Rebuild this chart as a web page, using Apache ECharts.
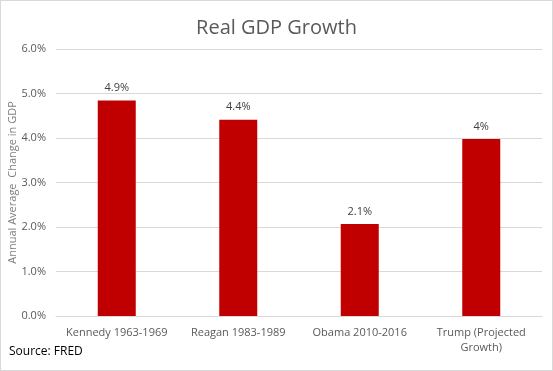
<!DOCTYPE html>
<html>
<head>
<meta charset="utf-8">
<script src="https://cdn.jsdelivr.net/npm/echarts@6/dist/echarts.min.js"></script>
<style>
html,body{margin:0;padding:0;background:#fff;}
#c{width:553px;height:371px;box-sizing:border-box;border:1px solid #d9d9d9;}
</style>
</head>
<body>
<div id="c"></div>
<script>
const categories = ["Kennedy 1963-1969", "Reagan 1983-1989", "Obama 2010-2016", "Trump (Projected\nGrowth)"];
const growthValues = [4.84, 4.41, 2.07, 3.98];
const valueLabels = ["4.9%", "4.4%", "2.1%", "4%"];
const yTicks = [0, 1, 2, 3, 4, 5, 6];

const chart = echarts.init(document.getElementById('c'));
chart.setOption({
  animation: false,
  title: {
    text: 'Real GDP Growth',
    left: 'center',
    top: 12,
    textStyle: {fontFamily: 'Open Sans', fontSize: 20, fontWeight: 'normal', color: '#595959'}
  },
  graphic: [{
    type: 'text',
    left: 8,
    top: 345,
    style: {text: 'Source: FRED', font: '12px "Open Sans"', fill: '#000'}
  }],
  grid: {left: 55, right: 10, top: 48, bottom: 54, containLabel: false, outerBoundsMode: 'none'},
  xAxis: {
    type: 'category',
    data: categories,
    axisTick: {show: false},
    axisLine: {lineStyle: {color: '#d9d9d9'}},
    axisLabel: {fontFamily: 'Open Sans', fontSize: 11, color: '#595959', margin: 9, lineHeight: 15, interval: 0}
  },
  yAxis: {
    type: 'value',
    min: yTicks[0],
    max: yTicks[yTicks.length - 1],
    interval: 1,
    name: 'Annual Average  Change in GDP',
    nameLocation: 'middle',
    nameGap: 38,
    nameMoveOverlap: false,
    nameTextStyle: {fontFamily: 'Open Sans', fontSize: 11, color: '#7f7f7f'},
    axisLine: {show: false},
    axisTick: {show: false},
    splitLine: {lineStyle: {color: '#d9d9d9'}},
    axisLabel: {fontFamily: 'Open Sans', fontSize: 11, color: '#595959', margin: 10,
      formatter: v => v.toFixed(1) + '%'}
  },
  series: [{
    type: 'bar',
    data: growthValues,
    barWidth: 38,
    itemStyle: {color: '#c00000'},
    label: {
      show: true,
      position: 'top',
      distance: 7,
      fontFamily: 'Open Sans',
      fontSize: 11,
      color: '#404040',
      formatter: p => valueLabels[p.dataIndex]
    }
  }]
});
</script>
</body>
</html>
